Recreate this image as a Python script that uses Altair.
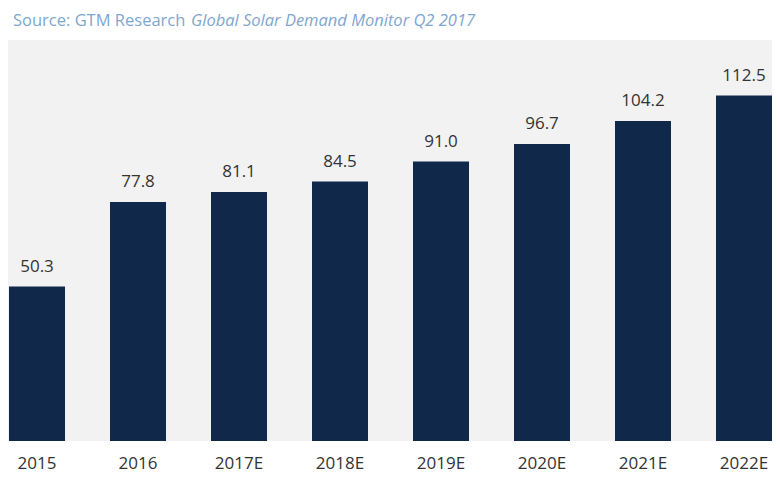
import altair as alt
import pandas as pd

years = ["2015", "2016", "2017E", "2018E", "2019E", "2020E", "2021E", "2022E"]
values = [50.3, 77.8, 81.1, 84.5, 91.0, 96.7, 104.2, 112.5]
labels = ["50.3", "77.8", "81.1", "84.5", "91.0", "96.7", "104.2", "112.5"]
source_plain = "Source: GTM Research"
source_italic = "Global Solar Demand Monitor Q2 2017"

df = pd.DataFrame({"year": years, "value": values, "label": labels})

FONT = "Open Sans"

x = alt.X(
    "year:N",
    sort=years,
    title=None,
    scale=alt.Scale(paddingInner=0.4455, paddingOuter=0.005, align=1),
    axis=alt.Axis(
        ticks=False,
        domain=False,
        grid=False,
        labelAngle=0,
        labelFont=FONT,
        labelFontSize=17,
        labelColor="#333333",
        labelBaseline="alphabetic",
        labelPadding=27,
    ),
)
y = alt.Y(
    "value:Q",
    title=None,
    scale=alt.Scale(domain=[0, 130.6], nice=False, zero=True),
    axis=None,
)

bars = alt.Chart(df).mark_bar(color="#10294a").encode(x=x, y=y)

text = alt.Chart(df).mark_text(
    font=FONT, fontSize=17, color="#333333", baseline="alphabetic", dy=-15
).encode(x=x, y=y, text="label:N")

src1 = alt.Chart(pd.DataFrame({"t": [source_plain]})).mark_text(
    font=FONT, fontSize=16.5, color="#7fa6cf", align="left", baseline="alphabetic"
).encode(x=alt.value(5), y=alt.value(-14), text="t:N")

src2 = alt.Chart(pd.DataFrame({"t": [source_italic]})).mark_text(
    font=FONT, fontSize=16.5, fontStyle="italic", color="#7fa6cf", align="left", baseline="alphabetic"
).encode(x=alt.value(183), y=alt.value(-14), text="t:N")

chart = (
    alt.layer(bars, text, src1, src2)
    .properties(
        width=764,
        height=401,
        autosize=alt.AutoSizeParams(type="none"),
        padding={"top": 32, "left": 0, "right": 0, "bottom": 37},
        background="white",
    )
    .configure_view(fill="#f2f2f2", stroke=None)
)

chart.save("out.html", embed_options={"renderer": "svg", "actions": False})
